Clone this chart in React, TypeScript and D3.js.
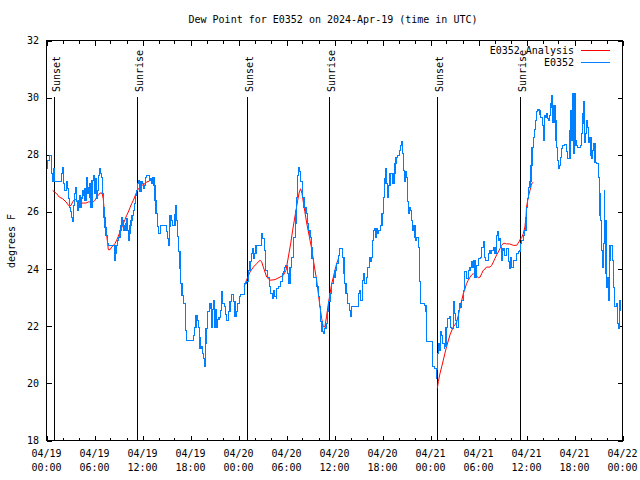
import { useEffect, useRef } from "react";
import * as d3 from "d3";

// time axis: 04/19 00:00 UTC .. 04/22 00:00 UTC
const START = Date.UTC(2024, 3, 19);
const END = Date.UTC(2024, 3, 22);

// E0352 observed dew point (hours since start, degrees F)
const obsHours = [
  0.0, 0.15, 0.36, 0.5, 0.65, 0.77, 0.94, 1.0, 1.77, 1.9, 1.98, 2.1, 2.3, 2.52, 2.6, 2.73, 2.86, 3.0, 3.15, 3.23,
  3.35, 3.48, 3.6, 3.69, 3.77, 3.9, 3.98, 4.1, 4.19, 4.31, 4.4, 4.52, 4.6, 4.73, 4.81, 4.94, 5.02, 5.15, 5.27, 5.35,
  5.44, 5.56, 5.69, 5.85, 5.98, 6.06, 6.19, 6.27, 6.4, 6.48, 6.6, 6.69, 6.77, 6.9, 7.02, 7.1, 7.19, 7.31, 7.44, 7.6,
  7.73, 8.44, 8.48, 8.52, 8.6, 8.69, 8.86, 9.02, 9.19, 9.31, 9.44, 9.52, 9.6, 9.73, 9.81, 9.94, 10.02, 10.15, 10.27, 10.35,
  10.44, 10.56, 10.69, 10.86, 10.98, 11.1, 11.27, 11.4, 11.52, 11.6, 11.69, 11.81, 11.94, 12.1, 12.23, 12.35, 12.52, 12.73, 12.86, 13.02,
  13.15, 13.27, 13.44, 13.56, 13.69, 13.86, 13.98, 14.27, 14.94, 15.02, 15.15, 15.23, 15.36, 15.44, 15.65, 15.77, 15.98, 16.06, 16.19, 16.27,
  16.36, 16.48, 16.69, 16.77, 16.94, 17.1, 17.4, 17.52, 18.23, 18.36, 18.48, 18.69, 18.86, 19.02, 19.1, 19.19, 19.36, 19.48, 19.6, 19.73,
  19.86, 19.94, 20.15, 20.36, 20.44, 20.65, 20.77, 20.86, 20.98, 21.1, 21.27, 21.4, 21.56, 21.77, 21.9, 22.02, 22.23, 22.36, 22.52, 22.73,
  22.94, 23.15, 23.36, 23.56, 23.7, 23.86, 24.1, 24.3, 24.7, 24.8, 25.0, 25.2, 25.44, 25.57, 25.73, 25.86, 25.98, 26.19, 26.77, 26.9,
  27.0, 27.2, 27.35, 27.6, 27.86, 28.0, 28.2, 28.35, 28.48, 28.7, 28.77, 28.98, 29.19, 29.3, 29.48, 29.6, 29.73, 29.9, 30.1, 30.27,
  30.44, 30.65, 30.86, 31.07, 31.19, 31.27, 31.4, 31.48, 31.6, 31.7, 31.8, 32.0, 32.19, 32.44, 32.6, 32.77, 32.94, 33.07, 33.19, 33.36,
  33.69, 33.77, 33.98, 34.1, 34.27, 34.44, 34.6, 34.73, 34.94, 35.1, 35.23, 35.3, 35.44, 35.65, 35.86, 36.06, 36.27, 36.48, 36.6, 36.9,
  37.02, 37.19, 37.3, 37.44, 37.6, 37.86, 38.0, 38.15, 38.77, 38.98, 39.19, 39.3, 39.52, 39.69, 39.8, 40.02, 40.15, 40.36, 40.5, 40.65,
  40.77, 40.86, 40.98, 41.1, 41.27, 41.4, 41.52, 41.77, 41.94, 42.1, 42.23, 42.36, 42.44, 42.6, 42.73, 42.94, 43.15, 43.27, 43.44, 43.56,
  43.69, 43.86, 44.1, 44.27, 44.4, 44.52, 44.6, 44.73, 44.82, 44.94, 45.1, 45.23, 45.35, 45.44, 45.65, 45.77, 45.86, 46.06, 46.19, 46.27,
  46.48, 46.6, 46.77, 47.3, 47.44, 47.5, 48.15, 48.27, 48.5, 48.7, 48.8, 48.85, 48.98, 49.1, 49.27, 49.4, 49.5, 49.7, 49.8, 49.94,
  50.1, 50.35, 50.5, 50.65, 50.85, 50.98, 51.15, 51.27, 51.5, 51.6, 51.77, 51.9, 52.1, 52.23, 52.3, 52.5, 52.7, 52.94, 53.15, 53.27,
  53.44, 53.56, 53.77, 53.98, 54.2, 54.4, 54.6, 54.73, 54.9, 55.0, 55.2, 55.35, 55.5, 55.65, 55.86, 56.06, 56.27, 56.4, 56.48, 56.69,
  56.8, 56.9, 57.0, 57.19, 57.3, 57.5, 57.7, 57.86, 58.0, 58.15, 58.35, 58.56, 58.77, 58.98, 59.19, 59.27, 59.4, 59.6, 59.8, 59.94,
  60.0, 60.15, 60.27, 60.44, 60.56, 60.69, 60.85, 60.98, 61.1, 61.27, 61.4, 61.56, 61.69, 61.8, 61.98, 62.1, 62.19, 62.3, 62.44, 62.52,
  62.65, 62.77, 62.9, 63.02, 63.1, 63.19, 63.3, 63.44, 63.56, 63.69, 63.77, 63.9, 64.0, 64.15, 64.27, 64.4, 64.52, 64.8, 65.0, 65.15,
  65.35, 65.44, 65.52, 65.65, 65.73, 65.86, 65.94, 66.06, 66.19, 66.35, 66.7, 66.9, 67.02, 67.1, 67.19, 67.3, 67.4, 67.5, 67.65, 67.77,
  67.9, 68.06, 68.15, 68.27, 68.4, 68.56, 68.77, 68.98, 69.1, 69.19, 69.3, 69.4, 69.5, 69.6, 69.73, 69.8, 69.94, 70.02, 70.1, 70.23,
  70.35, 70.44, 70.73, 70.8, 70.85, 70.98, 71.2, 71.35, 71.48, 71.6, 71.69, 71.8,
];
const obsValues = [
  27.51, 27.8, 27.98, 27.98, 27.34, 27.05, 27.51, 27.05, 27.05, 27.34, 27.55, 26.99, 26.75, 27.05, 26.81, 26.46, 26.17, 26.0, 25.82, 25.65,
  26.23, 26.64, 26.87, 26.64, 26.35, 26.06, 26.4, 26.58, 26.17, 26.52, 26.46, 26.75, 26.58, 26.81, 26.41, 26.81, 27.22, 26.64, 26.87, 26.99,
  26.52, 26.17, 27.1, 27.28, 26.64, 27.16, 26.99, 26.46, 26.75, 27.28, 27.45, 27.51, 27.34, 27.22, 26.64, 26.17, 25.82, 25.47, 25.18, 24.89,
  24.83, 24.83, 24.54, 24.31, 24.54, 24.83, 25.0, 25.12, 25.36, 25.53, 25.82, 25.71, 25.36, 25.53, 25.36, 25.59, 25.76, 25.36, 25.0, 25.24,
  25.53, 25.71, 25.88, 26.06, 26.29, 26.58, 26.75, 26.99, 27.1, 26.93, 26.7, 27.05, 26.99, 26.81, 26.93, 27.22, 27.28, 27.28, 27.1, 27.16,
  26.99, 27.22, 26.93, 26.4, 25.95, 25.5, 25.25, 25.53, 25.53, 25.3, 25.08, 24.83, 25.5, 25.88, 25.7, 25.53, 25.53, 25.9, 26.23, 25.7,
  25.13, 24.6, 24.03, 23.5, 23.08, 22.8, 21.86, 21.51, 21.51, 21.68, 21.97, 22.38, 22.2, 21.97, 21.6, 21.22, 21.3, 21.05, 20.88, 20.58,
  21.4, 21.93, 22.5, 22.62, 22.79, 21.96, 22.6, 22.9, 21.96, 22.6, 21.96, 22.25, 22.3, 22.55, 23.2, 22.8, 22.7, 22.4, 22.2, 22.5,
  22.85, 23.12, 22.85, 22.33, 22.5, 22.79, 23.03, 23.12, 23.12, 23.49, 23.55, 23.96, 24.25, 24.54, 24.71, 24.37, 24.54, 24.83, 24.83, 25.24,
  25.07, 24.66, 23.96, 23.72, 23.38, 23.14, 22.97, 23.26, 23.03, 22.97, 23.32, 23.38, 23.38, 23.55, 23.84, 23.9, 24.07, 24.13, 23.84, 23.49,
  24.07, 24.42, 25.12, 25.59, 26.06, 26.52, 27.28, 27.57, 27.4, 27.22, 27.05, 26.52, 26.17, 25.94, 25.59, 25.36, 25.12, 24.77, 24.37, 23.72,
  23.72, 23.38, 23.03, 22.68, 22.15, 21.8, 21.74, 21.92, 22.09, 22.5, 22.73, 22.85, 23.14, 23.49, 23.72, 23.96, 24.19, 24.48, 24.71, 24.71,
  24.42, 23.84, 23.49, 23.14, 22.79, 22.56, 22.33, 22.68, 22.68, 23.14, 23.26, 22.91, 23.61, 23.84, 23.49, 23.72, 24.07, 24.42, 24.25, 24.42,
  25.01, 25.36, 25.42, 25.12, 25.42, 25.24, 25.36, 25.53, 25.94, 26.52, 27.16, 27.51, 26.99, 26.52, 26.93, 27.34, 27.36, 26.99, 27.34, 27.69,
  27.92, 27.98, 28.15, 28.33, 28.45, 28.04, 27.45, 27.05, 27.4, 27.22, 26.35, 25.94, 26.17, 26.06, 25.71, 25.36, 25.53, 25.12, 25.01, 25.12,
  24.77, 23.55, 22.79, 22.73, 22.5, 21.45, 21.45, 20.58, 20.52, 20.18, 20.47, 21.05, 21.4, 21.16, 21.8, 21.68, 21.4, 21.22, 21.28, 21.97,
  22.27, 22.33, 21.97, 21.92, 22.85, 22.44, 22.21, 21.97, 22.56, 22.79, 22.67, 22.9, 23.26, 23.72, 23.9, 23.66, 23.96, 24.07, 24.25, 24.07,
  24.3, 23.72, 24.13, 24.37, 24.42, 24.77, 24.95, 24.42, 24.3, 24.3, 24.54, 24.66, 24.54, 24.66, 24.77, 24.54, 25.18, 25.3, 25.0, 25.06,
  24.77, 24.3, 24.71, 24.66, 24.48, 24.71, 24.25, 24.02, 24.42, 24.07, 24.3, 24.3, 24.54, 24.6, 24.66, 24.89, 25.01, 25.18, 25.36, 25.82,
  26.17, 26.46, 26.87, 27.05, 27.63, 28.27, 28.62, 28.88, 29.2, 29.5, 29.6, 29.55, 29.42, 29.3, 29.03, 28.5, 28.68, 29.38, 29.32, 29.44,
  29.26, 29.2, 29.38, 29.79, 30.08, 29.67, 29.14, 29.73, 29.2, 28.5, 28.27, 27.8, 27.51, 27.63, 27.92, 28.21, 28.33, 28.36, 28.1, 27.86,
  27.86, 28.85, 29.55, 28.5, 30.14, 28.04, 30.14, 28.5, 28.33, 28.27, 28.33, 28.73, 29.43, 29.85, 29.08, 28.44, 28.73, 29.2, 28.97, 28.44,
  28.62, 27.98, 27.86, 28.15, 28.38, 27.74, 27.68, 27.22, 26.64, 25.88, 25.7, 24.66, 24.07, 24.89, 26.75, 25.7, 23.84, 23.37, 23.72, 22.9,
  24.3, 24.83, 24.83, 24.3, 23.37, 22.68, 22.79, 22.09, 21.92, 22.56, 22.9, 22.67,
];

// E0352 Analysis (NaN marks a gap between runs)
const anaHours = [
  0.77, 1.27, 1.6, 2.02, 2.44, 2.65, 2.86, 3.06, 3.27, 3.48, 3.69, 3.9, 4.1, 4.4, 4.6, 4.94, 5.23, 5.52, 5.85, 6.06,
  6.27, 6.48, 6.69, 6.94, 7.1, 7.19, 7.31, 7.44, 7.6, 7.73, 7.94, 8.15, 8.36, 8.56, 8.77, 8.98, 9.19, 9.4, 9.6, 9.81,
  10.02, 10.23, 10.44, 10.65, 10.86, 11.06, 11.27, 11.48, 11.69, 11.9, 12.1, 12.31, 12.52, 12.86, NaN,
  24.7, 25.0, 25.44, 25.86, 26.27, 26.69, 26.9, 27.1, 27.52, 27.94, 28.56, 29.19, 29.6, 29.94, 30.23, 30.52, 30.77, 30.98, 31.19, 31.4,
  31.6, 31.77, 31.94, 32.1, 32.3, 32.5, 32.7, 32.94, 33.15, 33.36, 33.56, 33.77, 33.98, 34.19, 34.4, 34.6, 34.8, 35.0, 35.23, 35.44,
  35.65, 35.86, 36.06, 36.27, 36.5, NaN,
  48.85, 48.98, 49.19, 49.4, 49.6, 49.8, 50.0, 50.44, 50.85, 51.06, 51.27, 51.48, 51.7, 51.9, 52.1, 52.3, 52.5, 52.7, 52.94, 53.15,
  53.35, 53.56, 53.77, 53.98, 54.2, 54.4, 54.6, 54.8, 55.0, 55.2, 55.44, 55.65, 55.86, 56.06, 56.27, 56.48, 56.69, 56.9, 57.1, 57.3,
  57.5, 57.9, 58.35, 58.77, 59.06, 59.19, 59.4, 59.6, 59.8, 59.94, 60.0, 60.15, 60.27, 60.44, 60.65, 60.85,
];
const anaValues = [
  26.75, 26.64, 26.52, 26.46, 26.35, 26.27, 26.2, 26.23, 26.35, 26.43, 26.43, 26.38, 26.35, 26.31, 26.31, 26.31, 26.35, 26.35, 26.35, 26.41,
  26.52, 26.58, 26.66, 26.66, 26.46, 26.11, 25.7, 25.36, 25.01, 24.68, 24.68, 24.77, 24.83, 24.89, 25.01, 25.15, 25.3, 25.45, 25.59, 25.73,
  25.88, 26.0, 26.15, 26.29, 26.41, 26.55, 26.7, 26.81, 26.87, 26.93, 26.95, 26.99, 27.05, 27.08, NaN,
  23.38, 23.61, 23.9, 24.07, 24.19, 24.31, 24.25, 24.07, 23.72, 23.61, 23.63, 23.72, 23.78, 23.96, 24.42, 24.89, 25.36, 25.71, 26.06, 26.41,
  26.7, 26.81, 26.64, 26.35, 26.0, 25.65, 25.36, 25.01, 24.71, 24.31, 23.96, 23.61, 23.14, 22.68, 22.27, 21.98, 21.98, 22.33, 22.79, 23.14,
  23.49, 23.72, 23.96, 24.19, 24.37, NaN,
  19.82, 20.06, 20.35, 20.58, 20.81, 21.05, 21.28, 21.7, 21.98, 22.05, 22.15, 22.38, 22.68, 22.9, 23.14, 23.3, 23.49, 23.6, 23.72, 23.8,
  23.84, 23.78, 23.75, 23.7, 23.72, 23.84, 23.96, 24.0, 24.07, 24.07, 24.07, 24.13, 24.25, 24.37, 24.5, 24.6, 24.72, 24.83, 24.9, 24.9,
  24.88, 24.88, 24.83, 24.83, 24.95, 25.03, 25.1, 25.24, 25.47, 25.82, 26.17, 26.4, 26.58, 26.76, 27.0, 27.03,
];

const sunHours = [0.975, 11.35, 25.03, 35.35, 48.85, 59.19];
const sunLabels = ["Sunset", "Sunrise", "Sunset", "Sunrise", "Sunset", "Sunrise"];

const yTicks = [18, 20, 22, 24, 26, 28, 30, 32];

const seriesNames = ["E0352 Analysis", "E0352"];
const seriesColors = ["#ff0000", "#0080ff"];

const FONT = "'DejaVu Sans Mono', 'Liberation Mono', monospace";

const toDate = (h: number) => new Date(START + h * 3600 * 1000);

const DewPointChart = () => {
  const svgRef = useRef<SVGSVGElement>(null);

  useEffect(() => {
    if (!svgRef.current) return;
    const svg = d3.select(svgRef.current);
    svg.selectAll("*").remove();

    const width = 640;
    const height = 480;
    const left = 46.5;
    const right = 622.5;
    const top = 40.5;
    const bottom = 440.5;

    svg.attr("width", width).attr("height", height);
    svg.append("rect").attr("width", width).attr("height", height).attr("fill", "#fff");

    const x = d3.scaleUtc().domain([new Date(START), new Date(END)]).range([left, right]);
    const y = d3.scaleLinear().domain([18, 32]).range([bottom, top]);

    const ticks = svg.append("g").attr("stroke", "#000").attr("shape-rendering", "crispEdges");

    // x ticks: minor every 2 h, major every 6 h, on bottom and top
    const minor = d3.utcHour.every(2)!.range(new Date(START), new Date(END + 1));
    minor.forEach((d) => {
      const major = d.getUTCHours() % 6 === 0;
      const len = major ? 5 : 3;
      const px = Math.round(x(d)) + 0.5;
      ticks.append("line").attr("x1", px).attr("x2", px).attr("y1", bottom).attr("y2", bottom - len);
      ticks.append("line").attr("x1", px).attr("x2", px).attr("y1", top).attr("y2", top + len);
    });

    // y ticks on both sides
    yTicks.forEach((v) => {
      const py = Math.round(y(v)) + 0.5;
      ticks.append("line").attr("x1", left).attr("x2", left + 5).attr("y1", py).attr("y2", py);
      ticks.append("line").attr("x1", right).attr("x2", right - 5).attr("y1", py).attr("y2", py);
    });

    // sunrise / sunset markers
    sunHours.forEach((h, i) => {
      const px = Math.round(x(toDate(h))) + 0.5;
      ticks.append("line").attr("x1", px).attr("x2", px).attr("y1", 97).attr("y2", bottom);
      svg
        .append("text")
        .attr("transform", `translate(${px + 5.5},92) rotate(-90)`)
        .attr("font-family", FONT)
        .attr("font-size", 10)
        .attr("fill", "#000")
        .text(sunLabels[i]);
    });

    // analysis line
    const anaLine = d3
      .line<number>()
      .defined((_, i) => !isNaN(anaValues[i]))
      .x((h) => x(toDate(h)))
      .y((_, i) => y(anaValues[i]));
    svg
      .append("path")
      .attr("d", anaLine(anaHours))
      .attr("fill", "none")
      .attr("stroke", seriesColors[0])
      .attr("stroke-width", 1);

    // observed line
    const obsLine = d3
      .line<number>()
      .curve(d3.curveStepAfter)
      .x((h) => x(toDate(h)))
      .y((_, i) => y(obsValues[i]));
    svg
      .append("path")
      .attr("d", obsLine(obsHours))
      .attr("fill", "none")
      .attr("stroke", seriesColors[1])
      .attr("stroke-width", 1.1)
      .attr("shape-rendering", "crispEdges");

    // frame
    svg
      .append("rect")
      .attr("x", left)
      .attr("y", top)
      .attr("width", right - left)
      .attr("height", bottom - top)
      .attr("fill", "none")
      .attr("stroke", "#000")
      .attr("shape-rendering", "crispEdges");

    const txt = svg.append("g").attr("font-family", FONT).attr("font-size", 10).attr("fill", "#000");

    // title
    txt
      .append("text")
      .attr("x", 333)
      .attr("y", 23)
      .attr("text-anchor", "middle")
      .text("Dew Point for E0352 on 2024-Apr-19 (time in UTC)");

    // y tick labels
    yTicks.forEach((v) => {
      txt
        .append("text")
        .attr("x", 39)
        .attr("y", y(v) + 3.5)
        .attr("text-anchor", "end")
        .text(String(v));
    });

    // y axis title
    txt
      .append("text")
      .attr("transform", `translate(15,241) rotate(-90)`)
      .attr("text-anchor", "middle")
      .text("degrees F");

    // x tick labels
    const fmtDay = d3.utcFormat("%m/%d");
    const fmtTime = d3.utcFormat("%H:%M");
    d3.utcHour
      .every(6)!
      .range(new Date(START), new Date(END + 1))
      .forEach((d) => {
        const px = x(d);
        txt.append("text").attr("x", px).attr("y", 457).attr("text-anchor", "middle").text(fmtDay(d));
        txt.append("text").attr("x", px).attr("y", 471).attr("text-anchor", "middle").text(fmtTime(d));
      });

    // legend
    seriesNames.forEach((name, i) => {
      const ly = 50.5 + i * 12;
      txt
        .append("text")
        .attr("x", 574)
        .attr("y", ly + 3.5)
        .attr("text-anchor", "end")
        .text(name);
      svg
        .append("line")
        .attr("x1", 581)
        .attr("x2", 610)
        .attr("y1", ly)
        .attr("y2", ly)
        .attr("stroke", seriesColors[i])
        .attr("shape-rendering", "crispEdges");
    });
  }, []);

  return (
    <div style={{ position: "absolute", left: 0, top: 0, width: 640, height: 480, background: "#fff" }}>
      <svg ref={svgRef} style={{ display: "block" }}></svg>
    </div>
  );
};

export default DewPointChart;
